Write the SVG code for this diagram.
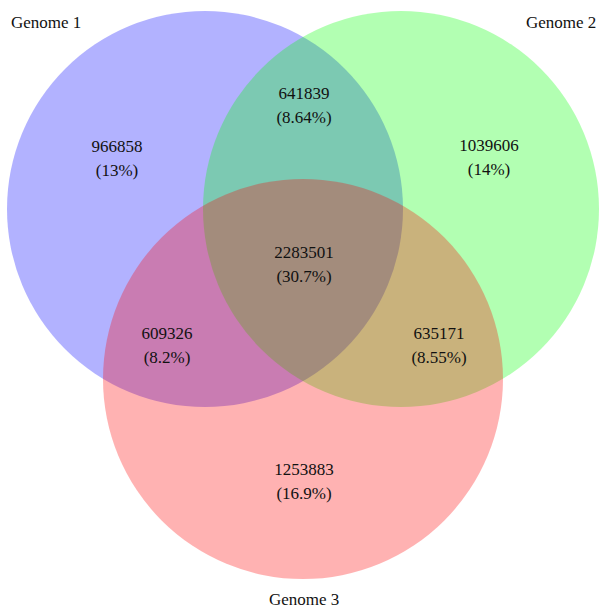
<svg xmlns="http://www.w3.org/2000/svg" width="604" height="611" viewBox="0 0 604 611">
<style>
.c{fill-opacity:0.3;stroke:none}
text{font-family:"Liberation Serif","Times New Roman",serif;font-size:17px;fill:#111}
.m{text-anchor:middle}
</style>
<rect width="604" height="611" fill="#fff"/>
<g id="genome1"><circle class="c" cx="205" cy="209" r="198" fill="#0000ff"/></g>
<g id="genome2"><circle class="c" cx="401" cy="209" r="198" fill="#00ff00"/></g>
<g id="genome3"><circle class="c" cx="303" cy="379" r="200" fill="#ff0000"/></g>
<g id="labels">
<text x="11" y="28">Genome 1</text>
<text x="526" y="28">Genome 2</text>
<text x="269" y="605">Genome 3</text>
</g>
<g id="counts" class="m">
<text class="m" x="117" y="152">966858</text>
<text class="m" x="117" y="176">(13%)</text>
<text class="m" x="489" y="151">1039606</text>
<text class="m" x="489" y="175">(14%)</text>
<text class="m" x="304" y="99">641839</text>
<text class="m" x="304" y="123">(8.64%)</text>
<text class="m" x="304" y="258">2283501</text>
<text class="m" x="304" y="282">(30.7%)</text>
<text class="m" x="167" y="339">609326</text>
<text class="m" x="167" y="363">(8.2%)</text>
<text class="m" x="439" y="339">635171</text>
<text class="m" x="439" y="363">(8.55%)</text>
<text class="m" x="304" y="475">1253883</text>
<text class="m" x="304" y="499">(16.9%)</text>
</g>
</svg>
